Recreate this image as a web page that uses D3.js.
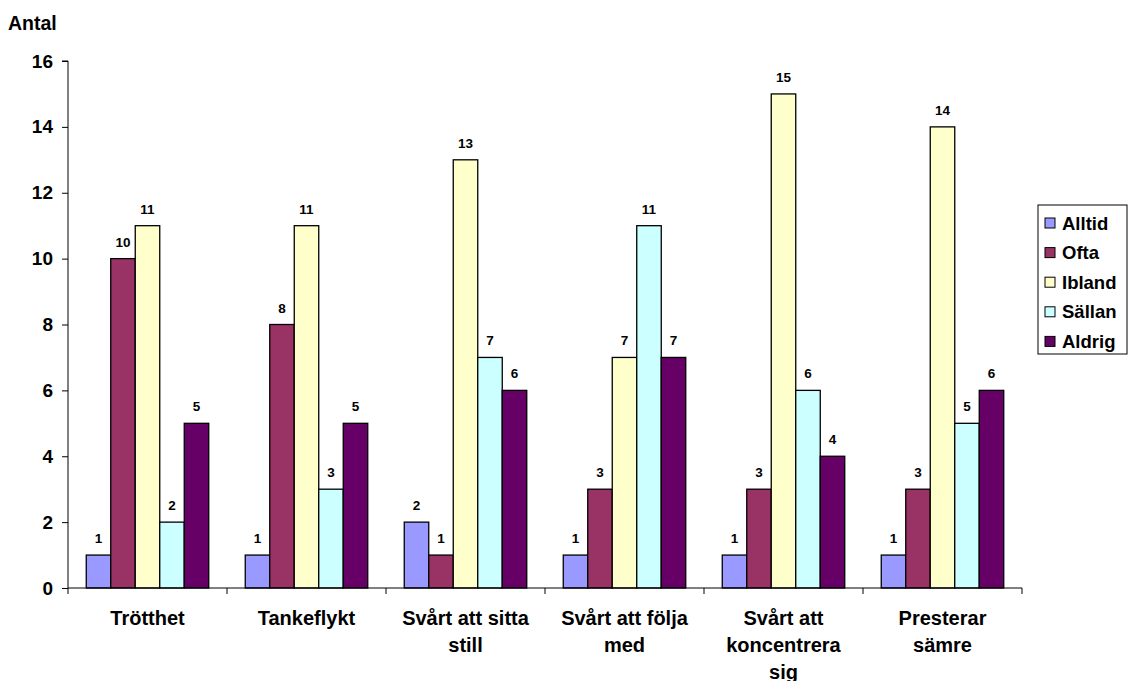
<!DOCTYPE html>
<html>
<head>
<meta charset="utf-8">
<script src="https://cdn.jsdelivr.net/npm/d3@7"></script>
<style>
  body { margin: 0; background: #fff; }
  svg { display: block; font-family: "Liberation Sans", Arial, sans-serif; font-weight: bold; }
</style>
</head>
<body>
<svg id="chart" width="1129" height="681"></svg>
<script>
// Category labels (split into lines as they wrap under the axis)
const categories = ["Trötthet", "Tankeflykt", "Svårt att sitta still", "Svårt att följa med", "Svårt att koncentrera sig", "Presterar sämre"];
const categoryLines = [["Trötthet"], ["Tankeflykt"], ["Svårt att sitta", "still"], ["Svårt att följa", "med"], ["Svårt att", "koncentrera", "sig"], ["Presterar", "sämre"]];
const seriesNames = ["Alltid", "Ofta", "Ibland", "Sällan", "Aldrig"];
const seriesColors = ["#9999FF", "#993366", "#FFFFCC", "#CCFFFF", "#660066"];
const alltid = [1, 1, 2, 1, 1, 1];
const ofta   = [10, 8, 1, 3, 3, 3];
const ibland = [11, 11, 13, 7, 15, 14];
const sallan = [2, 3, 7, 11, 6, 5];
const aldrig = [5, 5, 6, 7, 4, 6];
const yTicks = [0, 2, 4, 6, 8, 10, 12, 14, 16];

const seriesValues = [alltid, ofta, ibland, sallan, aldrig];

const svg = d3.select("#chart");
const plot = { left: 68, right: 1022, top: 61, bottom: 588 };

const x0 = d3.scaleBand().domain(categories).range([plot.left, plot.right]).paddingInner(0).paddingOuter(0);
const x1 = d3.scaleBand().domain(seriesNames).range([0, x0.bandwidth()]).paddingInner(0).paddingOuter(0.745);
const y = d3.scaleLinear().domain([0, 16]).range([plot.bottom, plot.top]);

// Y axis
const yAxis = d3.axisLeft(y).tickValues(yTicks).tickSize(6).tickPadding(9).tickFormat(d3.format("d"));
const gy = svg.append("g").attr("transform", `translate(${plot.left},0)`).call(yAxis);
gy.select(".domain").attr("stroke", "#000").attr("d", `M-6,${plot.top}H0V${plot.bottom}`);
gy.selectAll(".tick line").attr("stroke", "#000");
gy.selectAll(".tick text").attr("font-size", 19).attr("font-weight", "bold").attr("font-family", "Liberation Sans, Arial, sans-serif").attr("fill", "#000");

// Bars
const groups = svg.append("g").selectAll("g").data(categories).join("g")
  .attr("transform", d => `translate(${x0(d)},0)`);

seriesNames.forEach((name, si) => {
  groups.append("rect")
    .attr("x", x1(name))
    .attr("width", x1.bandwidth())
    .attr("y", (d, i) => y(seriesValues[si][i]))
    .attr("height", (d, i) => y(0) - y(seriesValues[si][i]))
    .attr("fill", seriesColors[si])
    .attr("stroke", "#000")
    .attr("stroke-width", 1.3);
  groups.append("text")
    .attr("x", x1(name) + x1.bandwidth() / 2)
    .attr("y", (d, i) => y(seriesValues[si][i]) - 12)
    .attr("text-anchor", "middle")
    .attr("font-size", 13.5)
    .attr("fill", "#000")
    .text((d, i) => seriesValues[si][i]);
});

// X axis
const gx = svg.append("g").attr("transform", `translate(0,${plot.bottom})`);
gx.append("line").attr("x1", plot.left).attr("x2", plot.right).attr("stroke", "#000");
const boundaries = categories.map(c => x0(c)).concat([plot.right]);
gx.selectAll("line.tk").data(boundaries).join("line").attr("class", "tk")
  .attr("x1", d => d).attr("x2", d => d).attr("y1", 0).attr("y2", 6).attr("stroke", "#000");

categories.forEach((c, i) => {
  const t = gx.append("text")
    .attr("text-anchor", "middle")
    .attr("font-size", 20)
    .attr("fill", "#000");
  categoryLines[i].forEach((line, li) => {
    t.append("tspan").attr("x", x0(c) + x0.bandwidth() / 2).attr("y", 37 + li * 27).text(line);
  });
});

// Axis title
svg.append("text").attr("x", 8).attr("y", 30).attr("font-size", 19.5).attr("fill", "#000").text("Antal");

// Legend
const legend = svg.append("g").attr("transform", "translate(1038,205)");
legend.append("rect").attr("width", 89).attr("height", 149).attr("fill", "#fff").attr("stroke", "#000").attr("stroke-width", 1);
seriesNames.forEach((name, i) => {
  const cy = 18 + i * 29.6;
  legend.append("rect").attr("x", 7).attr("y", cy - 5).attr("width", 10).attr("height", 10)
    .attr("fill", seriesColors[i]).attr("stroke", "#000").attr("stroke-width", 1);
  legend.append("text").attr("x", 24).attr("y", cy + 6.5).attr("font-size", 18.5).attr("fill", "#000").text(name);
});
</script>
</body>
</html>
